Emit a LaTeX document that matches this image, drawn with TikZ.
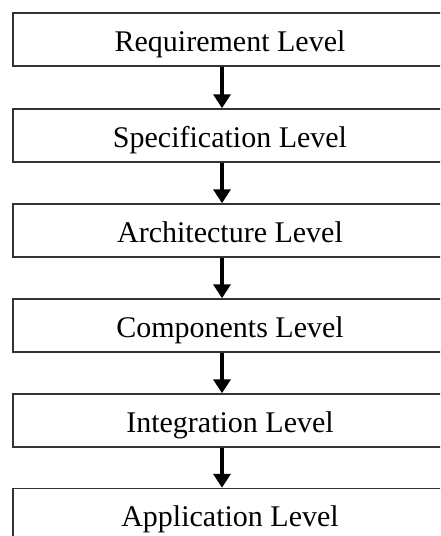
\documentclass[tikz,border=0pt]{standalone}
\usepackage{fontspec}
\setmainfont{Liberation Serif}
\usetikzlibrary{arrows.meta}
\begin{document}
\begin{tikzpicture}[x=1pt,y=-1pt,
  levelbox/.style={draw=black!80, line width=1.5pt, minimum width=434pt, minimum height=53pt, inner sep=0pt,
    text height=23pt, text depth=0pt,
    font=\fontsize{30}{34}\selectfont, text=black},
  flowarrow/.style={line width=3.8pt, -{Triangle[width=17pt,length=14pt]}}]
\useasboundingbox (0,0) rectangle (440,536);
\clip (0,0) rectangle (440,536);
\fill[white] (0,0) rectangle (440,536);
\node[levelbox] (l1) at (230,39.5) {Requirement Level};
\node[levelbox] (l2) at (230,135.5) {Specification Level};
\node[levelbox] (l3) at (230,230.5) {Architecture Level};
\node[levelbox] (l4) at (230,325.5) {Components Level};
\node[levelbox] (l5) at (230,420.5) {Integration Level};
\node[levelbox] (l6) at (230,515) {Application Level};
\foreach \a/\b in {l1/l2,l2/l3,l3/l4,l4/l5,l5/l6}
  \draw[flowarrow] ([xshift=-8pt]\a.south) -- ([xshift=-8pt]\b.north);
\end{tikzpicture}
\end{document}
